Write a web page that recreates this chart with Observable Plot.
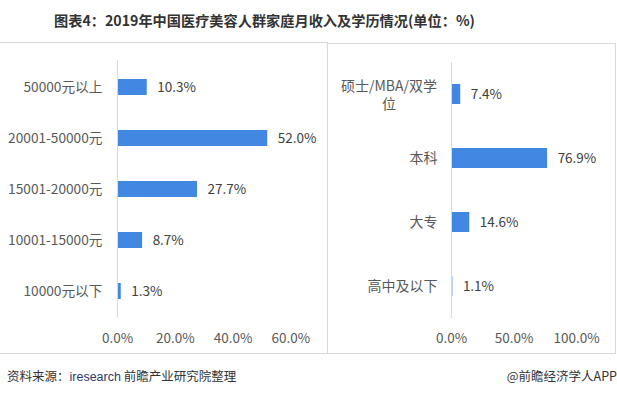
<!DOCTYPE html>
<html>
<head>
<meta charset="utf-8">
<script src="https://cdn.jsdelivr.net/npm/d3@7"></script>
<script src="https://cdn.jsdelivr.net/npm/@observablehq/plot@0.6"></script>
<style>
  body { margin: 0; background: #fff; font-family: "Noto Sans CJK SC", "Noto Sans", sans-serif; }
  #wrap { position: relative; width: 617px; height: 396px; overflow: hidden; background: #fff; }
  #title { position: absolute; top: 8px; left: 54px; white-space: nowrap; font-weight: bold;
           font-size: 14.2px; line-height: 24px; color: #333; }
  .panel { position: absolute; border: 1px solid #d9d9d9; box-sizing: border-box; }
  .plot { position: absolute; }
  #src { position: absolute; left: 7px; top: 366px; font-size: 12.5px; color: #333; line-height: 20px; }
  #src .en { color: #2e3a6a; font-family: "Liberation Sans", Arial, sans-serif; }
  #brand { position: absolute; right: 0px; top: 366px; font-size: 12.5px; color: #333; line-height: 20px; }
</style>
</head>
<body>
<div id="wrap">
  <div id="title">图表4：2019年中国医疗美容人群家庭月收入及学历情况(单位：%)</div>
  <div class="panel" style="left:-1px; top:42px; width:329px; height:312px;"></div>
  <div class="panel" style="left:327px; top:43px; width:289px; height:311px;"></div>
  <div class="plot" id="left" style="left:0px; top:42px;"></div>
  <div class="plot" id="right" style="left:328px; top:43px;"></div>
  <div id="src">资料来源：<span class="en">iresearch</span> 前瞻产业研究院整理</div>
  <div id="brand">@前瞻经济学人APP</div>
</div>
<script>
// Left panel: household monthly income
const incomeCats = ["50000元以上", "20001-50000元", "15001-20000元", "10001-15000元", "10000元以下"];
const incomeValues = [10.3, 52.0, 27.7, 8.7, 1.3];
const incomeTicks = [0, 20, 40, 60];

// Right panel: education
const eduCats = ["硕士/MBA/双学\n位", "本科", "大专", "高中及以下"];
const eduValues = [7.4, 76.9, 14.6, 1.1];
const eduTicks = [0, 50, 100];

const barColor = "#4287e1";
const tickColor = "#595959";
const valueColor = "#404040";
const fontFamily = '"Noto Sans CJK SC", "Noto Sans", sans-serif';
const pct = d => d.toFixed(1) + "%";

const incomeData = incomeCats.map((c, i) => ({c, v: incomeValues[i]}));
const eduData = eduCats.map((c, i) => ({c, v: eduValues[i]}));

const leftPlot = Plot.plot({
  width: 327, height: 311,
  marginLeft: 117, marginRight: 36.7, marginTop: 18, marginBottom: 35,
  style: {fontSize: "14px", fontFamily, color: tickColor, background: "transparent", overflow: "visible"},
  x: {domain: [0, 60]},
  y: {domain: incomeCats, paddingInner: 0.68, paddingOuter: 0.34},
  marks: [
    Plot.barX(incomeData, {x: "v", y: "c", fill: barColor}),
    Plot.ruleX([0], {stroke: "#d9d9d9", strokeWidth: 1}),
    Plot.axisX(incomeTicks, {tickSize: 0, tickPadding: 14.5, tickFormat: pct, fill: tickColor, label: null, fontSize: 13.5}),
    Plot.axisY({tickSize: 0, tickPadding: 15, fill: tickColor, label: null, fontSize: 13.7}),
    Plot.text(incomeData, {x: "v", y: "c", text: d => pct(d.v), dx: 10, textAnchor: "start", fill: valueColor, fontSize: 13.5})
  ]
});
document.getElementById("left").appendChild(leftPlot);

const rightPlot = Plot.plot({
  width: 287, height: 310,
  marginLeft: 123, marginRight: 39, marginTop: 19, marginBottom: 35,
  style: {fontSize: "14px", fontFamily, color: tickColor, background: "transparent", overflow: "visible"},
  x: {domain: [0, 100]},
  y: {domain: eduCats, paddingInner: 0.695, paddingOuter: 0.3475},
  marks: [
    Plot.barX(eduData, {x: "v", y: "c", fill: barColor}),
    Plot.ruleX([0], {stroke: "#d9d9d9", strokeWidth: 1}),
    Plot.axisX(eduTicks, {tickSize: 0, tickPadding: 14.5, tickFormat: pct, fill: tickColor, label: null, fontSize: 13.5}),
    Plot.axisY(eduCats.slice(1), {tickSize: 0, tickPadding: 14, fill: tickColor, label: null}),
    Plot.text(eduCats.slice(0, 1), {y: d => d, text: d => d, frameAnchor: "left", dx: -62.5, textAnchor: "middle", lineHeight: 1.29, fill: tickColor}),
    Plot.text(eduData, {x: "v", y: "c", text: d => pct(d.v), dx: 10, textAnchor: "start", fill: valueColor, fontSize: 13.5})
  ]
});
document.getElementById("right").appendChild(rightPlot);
</script>
</body>
</html>
